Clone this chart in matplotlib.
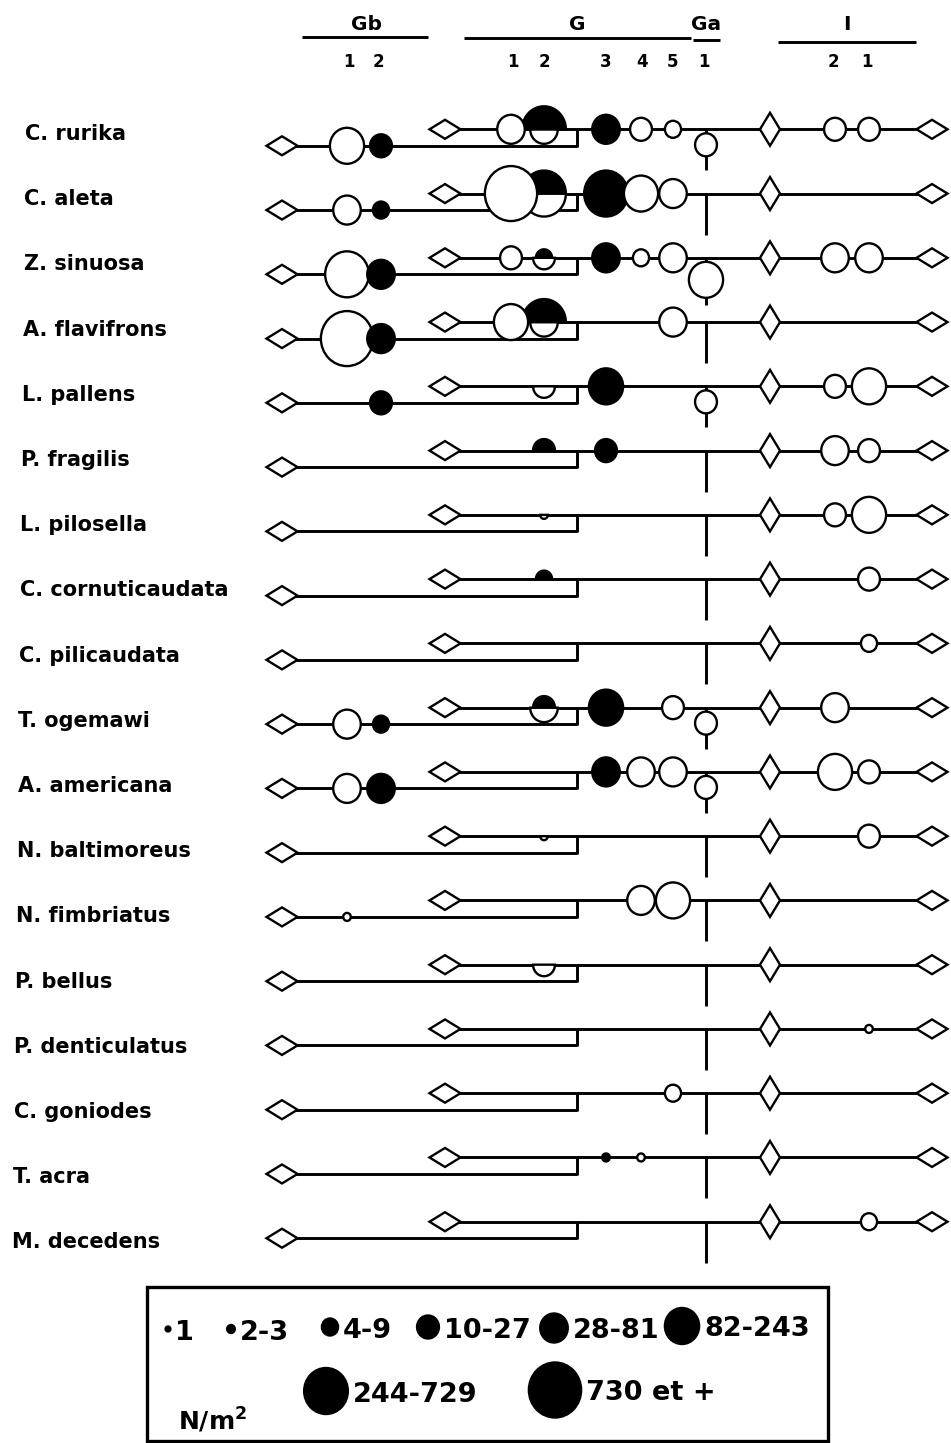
"""
Population density of species along the Gb / G / Ga / I gradient
"""

import numpy as np
import matplotlib
matplotlib.use("Agg")
from matplotlib import pyplot as plt
from matplotlib.patches import Ellipse, Polygon, Rectangle

species = ["C. rurika", "C. aleta", "Z. sinuosa", "A. flavifrons", "L. pallens",
           "P. fragilis", "L. pilosella", "C. cornuticaudata", "C. pilicaudata",
           "T. ogemawi", "A. americana", "N. baltimoreus", "N. fimbriatus",
           "P. bellus", "P. denticulatus", "C. goniodes", "T. acra", "M. decedens"]

# density class (1..8, see legend) at each station, 0 = not found
gb1      = [6, 5, 7, 8, 0, 0, 0, 0, 0, 5, 5, 0, 2, 0, 0, 0, 0, 0]
gb2      = [4, 3, 5, 5, 4, 0, 0, 0, 0, 3, 5, 0, 0, 0, 0, 0, 0, 0]
g1       = [5, 8, 4, 6, 0, 0, 0, 0, 0, 0, 0, 0, 0, 0, 0, 0, 0, 0]
g2_upper = [7, 7, 3, 7, 0, 4, 0, 3, 0, 4, 0, 0, 0, 0, 0, 0, 0, 0]
g2_lower = [5, 7, 4, 5, 4, 0, 2, 0, 0, 5, 0, 2, 0, 4, 0, 0, 0, 0]
g3       = [5, 7, 5, 0, 6, 4, 0, 0, 0, 6, 5, 0, 0, 0, 0, 0, 2, 0]
g4       = [4, 6, 3, 0, 0, 0, 0, 0, 0, 0, 5, 0, 5, 0, 0, 0, 2, 0]
g5       = [3, 5, 5, 5, 0, 0, 0, 0, 0, 4, 5, 0, 6, 0, 0, 3, 0, 0]
ga1      = [4, 0, 6, 0, 4, 0, 0, 0, 0, 4, 4, 0, 0, 0, 0, 0, 0, 0]
i2       = [4, 0, 5, 0, 4, 5, 4, 0, 0, 5, 6, 0, 0, 0, 0, 0, 0, 0]
i1       = [4, 0, 5, 0, 6, 4, 6, 4, 3, 0, 4, 4, 0, 0, 2, 0, 0, 3]

size_labels = ["1", "2-3", "4-9", "10-27", "28-81", "82-243", "244-729", "730 et +"]

# ---- layout (pixels) ----
W, H = 951, 1443
class_h = [5, 8, 17, 23, 29, 36, 46, 55]   # symbol height per density class
ASPECT = 0.95
LW = 2.1

x_gb1, x_gb2 = 347, 381
x_g1, x_g2, x_g3, x_g4, x_g5 = 511, 544, 606, 641, 673
x_ga, x_i2, x_i1 = 706, 835, 869
x_left_low, x_left_up, x_bracket, x_idiam, x_right = 282, 445, 577, 770, 932

row0, row_step, low_off = 129.3, 64.26, 16.5

fig = plt.figure(figsize=(W / 100, H / 100), dpi=100)
ax = fig.add_axes([0, 0, 1, 1])
ax.set_xlim(0, W)
ax.set_ylim(H, 0)
ax.axis("off")

font = dict(family="DejaVu Sans", fontweight="bold", color="black")


def symbol(x, y, cls, filled, z=4):
    h = class_h[cls - 1]
    ax.add_patch(Ellipse((x, y), ASPECT * h, h, facecolor="black" if filled else "white",
                         edgecolor="black", lw=1.7, zorder=z))


def half_symbol(x, y, cls, filled, upper, z=4):
    h = class_h[cls - 1]
    w = ASPECT * h
    t = np.linspace(0, np.pi, 60) if upper else np.linspace(np.pi, 2 * np.pi, 60)
    pts = np.column_stack([x + w / 2 * np.cos(t), y - h / 2 * np.sin(t)])
    ax.add_patch(Polygon(pts, closed=True, facecolor="black" if filled else "white",
                         edgecolor="black", lw=1.7, zorder=z))


def diamond(x, y, w, h):
    pts = [(x - w / 2, y), (x, y - h / 2), (x + w / 2, y), (x, y + h / 2)]
    ax.add_patch(Polygon(pts, closed=True, facecolor="white", edgecolor="black",
                         lw=1.7, zorder=3))


def hline(x0, x1, y):
    ax.plot([x0, x1], [y, y], color="black", lw=LW, solid_capstyle="butt", zorder=1)


def vline(x, y0, y1):
    ax.plot([x, x], [y0, y1], color="black", lw=LW, solid_capstyle="butt", zorder=1)


# ---- header ----
for txt, x in [("Gb", 366), ("G", 577), ("Ga", 706), ("I", 847)]:
    ax.text(x, 30, txt, fontsize=14.5, ha="center", va="baseline", **font)
hline(302, 428, 37)
hline(464, 691, 38)
hline(693, 720, 40)
hline(778, 916, 42)
for txt, x in [("1", 349), ("2", 378), ("1", 513), ("2", 544), ("3", 606), ("4", 642),
               ("5", 673), ("1", 704), ("2", 833), ("1", 867)]:
    ax.text(x, 67, txt, fontsize=12, ha="center", va="baseline", **font)

# ---- species rows ----
for i, name in enumerate(species):
    yu = row0 + row_step * i
    yl = yu + low_off
    ax.text(25 - 0.75 * i, 140 + 65.2 * i, name, fontsize=15, ha="left",
            va="baseline", **font)

    hline(x_left_low, x_bracket, yl)
    vline(x_bracket, yl + 1, yu)
    hline(x_left_up, x_right, yu)
    diamond(x_left_low, yl, 31, 19)
    diamond(x_left_up, yu, 31, 19)
    diamond(x_right, yu, 31, 19)
    diamond(x_idiam, yu, 20, 33)

    # Ga station hangs below the G line
    tick_end = yu + 41
    if ga1[i]:
        h = class_h[ga1[i] - 1]
        cy = yu + 4 + h / 2
        symbol(x_ga, cy, ga1[i], False)
        tick_end = max(tick_end, cy + h / 2 + 7)
    vline(x_ga, yu, tick_end)

    if gb1[i]:
        symbol(x_gb1, yl, gb1[i], False)
    if gb2[i]:
        symbol(x_gb2, yl, gb2[i], True)
    if g2_lower[i]:
        half_symbol(x_g2, yu, g2_lower[i], False, upper=False)
    if g2_upper[i]:
        half_symbol(x_g2, yu, g2_upper[i], True, upper=True)
    if g1[i]:
        symbol(x_g1, yu, g1[i], False, z=5)
    if g3[i]:
        symbol(x_g3, yu, g3[i], True)
    if g4[i]:
        symbol(x_g4, yu, g4[i], False)
    if g5[i]:
        symbol(x_g5, yu, g5[i], False)
    if i2[i]:
        symbol(x_i2, yu, i2[i], False)
    if i1[i]:
        symbol(x_i1, yu, i1[i], False)

# ---- legend ----
ax.add_patch(Rectangle((147, 1287), 681, 154, fill=False, edgecolor="black", lw=2.4))
leg_x = [168, 231, 330, 428, 554, 682, 326, 555]
leg_y = [1329, 1329, 1327, 1327, 1328, 1326, 1391, 1390]
for k, lab in enumerate(size_labels):
    symbol(leg_x[k], leg_y[k], k + 1, True)
    w = ASPECT * class_h[k]
    ax.text(leg_x[k] + w / 2 + 5, leg_y[k] + 10.5, lab, fontsize=19.5, ha="left",
            va="baseline", **font)
ax.text(178, 1430, r"N/m$^{\mathbf{2}}$", fontsize=18, ha="left", va="baseline", **font)

fig.savefig("out.png", dpi=100)
